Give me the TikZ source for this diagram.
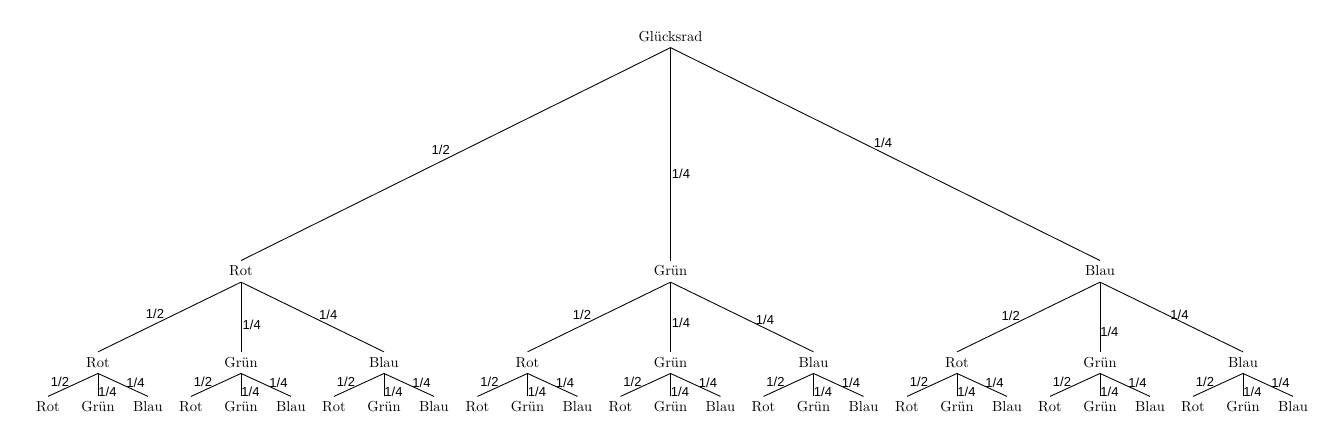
\documentclass[tikz,border=0pt]{standalone}
\usepackage{fontspec}
\newfontfamily\lblfont{Liberation Sans}
\begin{document}
\begin{tikzpicture}[x=0.69pt,y=-0.69pt,
  tn/.style={inner sep=3.33pt, text height=6.94pt, text depth=0.9pt, font=\fontsize{10}{12}\selectfont},
  lbl/.style={inner sep=0pt, font=\lblfont\fontsize{9}{10}\selectfont},
  conn/.style={line width=0.6pt}]
\useasboundingbox (0,0) rectangle (1335,444);
\node[tn] (root) at (670.5,36.8) {Glücksrad};
% level 1
\node[tn] (n1) at (241,271.35) {Rot};
\node[tn] (n2) at (670.5,271.35) {Grün};
\node[tn] (n3) at (1100,271.35) {Blau};
\draw[conn] (root.south) -- node[lbl, shift={(-15,-4)}] {1/2} (n1.north);
\draw[conn] (root.south) -- node[lbl, shift={(10.5,20)}] {1/4} (n2.north);
\draw[conn] (root.south) -- node[lbl, shift={(-2.25,-11)}] {1/4} (n3.north);
% level 2
\foreach \i/\x/\la/\lb/\ma/\mb/\ra/\rb in {1/241/-14.5/-3/10.7/8/15.8/-2, 2/670.5/-17/-2/10.5/6/23/3, 3/1100/-17.8/-1/9.3/15/8/-2} {
  \node[tn] (n\i1) at (\x-143,362.65) {Rot};
  \node[tn] (n\i2) at (\x,362.65) {Grün};
  \node[tn] (n\i3) at (\x+143,362.65) {Blau};
  \draw[conn] (n\i.south) -- node[lbl, shift={(\la,\lb)}] {1/2} (n\i1.north);
  \draw[conn] (n\i.south) -- node[lbl, shift={(\ma,\mb)}] {1/4} (n\i2.north);
  \draw[conn] (n\i.south) -- node[lbl, shift={(\ra,\rb)}] {1/4} (n\i3.north);
}
% level 3
\foreach \i/\x in {1/241, 2/670.5, 3/1100} {
  \foreach \j/\dx in {1/-143, 2/0, 3/143} {
    \node[tn] (n\i\j1) at (\x+\dx-50,407.2) {Rot};
    \node[tn] (n\i\j2) at (\x+\dx,407.2) {Grün};
    \node[tn] (n\i\j3) at (\x+\dx+50,407.2) {Blau};
    \draw[conn] (n\i\j.south) -- node[lbl, shift={(-13,-3)}] {1/2} (n\i\j1.north);
    \draw[conn] (n\i\j.south) -- node[lbl, shift={(9.5,6.7)}] {1/4} (n\i\j2.north);
    \draw[conn] (n\i\j.south) -- node[lbl, shift={(12.5,-2.5)}] {1/4} (n\i\j3.north);
  }
}
\end{tikzpicture}
\end{document}
